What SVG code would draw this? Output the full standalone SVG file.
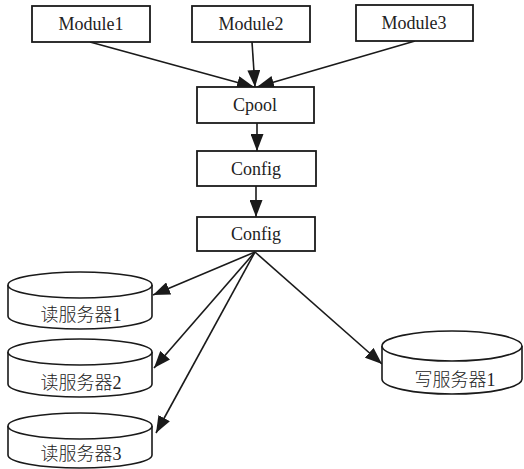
<svg xmlns="http://www.w3.org/2000/svg" width="524" height="469" viewBox="0 0 524 469">
  <style>
    .box { fill: #fff; stroke: #1a1a1a; stroke-width: 1.8; }
    .cyl { fill: #fff; stroke: #1a1a1a; stroke-width: 1.6; }
    .lbl { font-family: "Liberation Serif", "Noto Sans CJK SC", serif; font-size: 18px; fill: #222; text-anchor: middle; }
    .cjk { font-weight: 300; }
    .edge { stroke: #1a1a1a; stroke-width: 1.6; fill: none; marker-end: url(#arrow); }
  </style>
  <defs>
    <marker id="arrow" viewBox="0 0 17 13" refX="17" refY="6.5" markerWidth="17" markerHeight="13" markerUnits="userSpaceOnUse" orient="auto">
      <path d="M0,0 L17,6.5 L0,13 Z" fill="#1a1a1a"/>
    </marker>
  </defs>

  <g id="connectors">
    <line class="edge" x1="90" y1="42" x2="254" y2="87"/>
    <line class="edge" x1="252" y1="42" x2="255" y2="87"/>
    <line class="edge" x1="415" y1="41" x2="257" y2="87"/>
    <line class="edge" x1="257" y1="123" x2="257" y2="151"/>
    <line class="edge" x1="256" y1="186" x2="256" y2="217"/>
    <line class="edge" x1="255" y1="252" x2="153" y2="295"/>
    <line class="edge" x1="255" y1="252" x2="154" y2="368"/>
    <line class="edge" x1="255" y1="252" x2="156" y2="433"/>
    <line class="edge" x1="255" y1="252" x2="382" y2="364"/>
  </g>

  <g id="module1">
    <rect class="box" x="32" y="6" width="118" height="36"/>
    <text class="lbl" x="91" y="30">Module1</text>
  </g>
  <g id="module2">
    <rect class="box" x="192" y="6" width="118" height="36"/>
    <text class="lbl" x="251" y="30">Module2</text>
  </g>
  <g id="module3">
    <rect class="box" x="356" y="5" width="117" height="36"/>
    <text class="lbl" x="414" y="29">Module3</text>
  </g>
  <g id="cpool">
    <rect class="box" x="197" y="87" width="117" height="36"/>
    <text class="lbl" x="255" y="111">Cpool</text>
  </g>
  <g id="config1">
    <rect class="box" x="197" y="151" width="119" height="35"/>
    <text class="lbl" x="256" y="175">Config</text>
  </g>
  <g id="config2">
    <rect class="box" x="197" y="217" width="118" height="34"/>
    <text class="lbl" x="256" y="240">Config</text>
  </g>

  <g id="read1">
    <path class="cyl" d="M8,285 L8,316 A72,13 0 0 0 152,316 L152,285"/>
    <ellipse class="cyl" cx="80" cy="285" rx="72" ry="13"/>
    <text class="lbl cjk" x="81" y="321">读服务器1</text>
  </g>
  <g id="read2">
    <path class="cyl" d="M8,352 L8,384 A72,13 0 0 0 152,384 L152,352"/>
    <ellipse class="cyl" cx="80" cy="352" rx="72" ry="13"/>
    <text class="lbl cjk" x="81" y="389">读服务器2</text>
  </g>
  <g id="read3">
    <path class="cyl" d="M8,426 L8,455 A72,13 0 0 0 152,455 L152,426"/>
    <ellipse class="cyl" cx="80" cy="426" rx="72" ry="13"/>
    <text class="lbl cjk" x="81" y="460">读服务器3</text>
  </g>
  <g id="write1">
    <path class="cyl" d="M382,346 L382,379 A70,15 0 0 0 522,379 L522,346"/>
    <ellipse class="cyl" cx="452" cy="346" rx="70" ry="15"/>
    <text class="lbl cjk" x="455" y="386">写服务器1</text>
  </g>
</svg>
